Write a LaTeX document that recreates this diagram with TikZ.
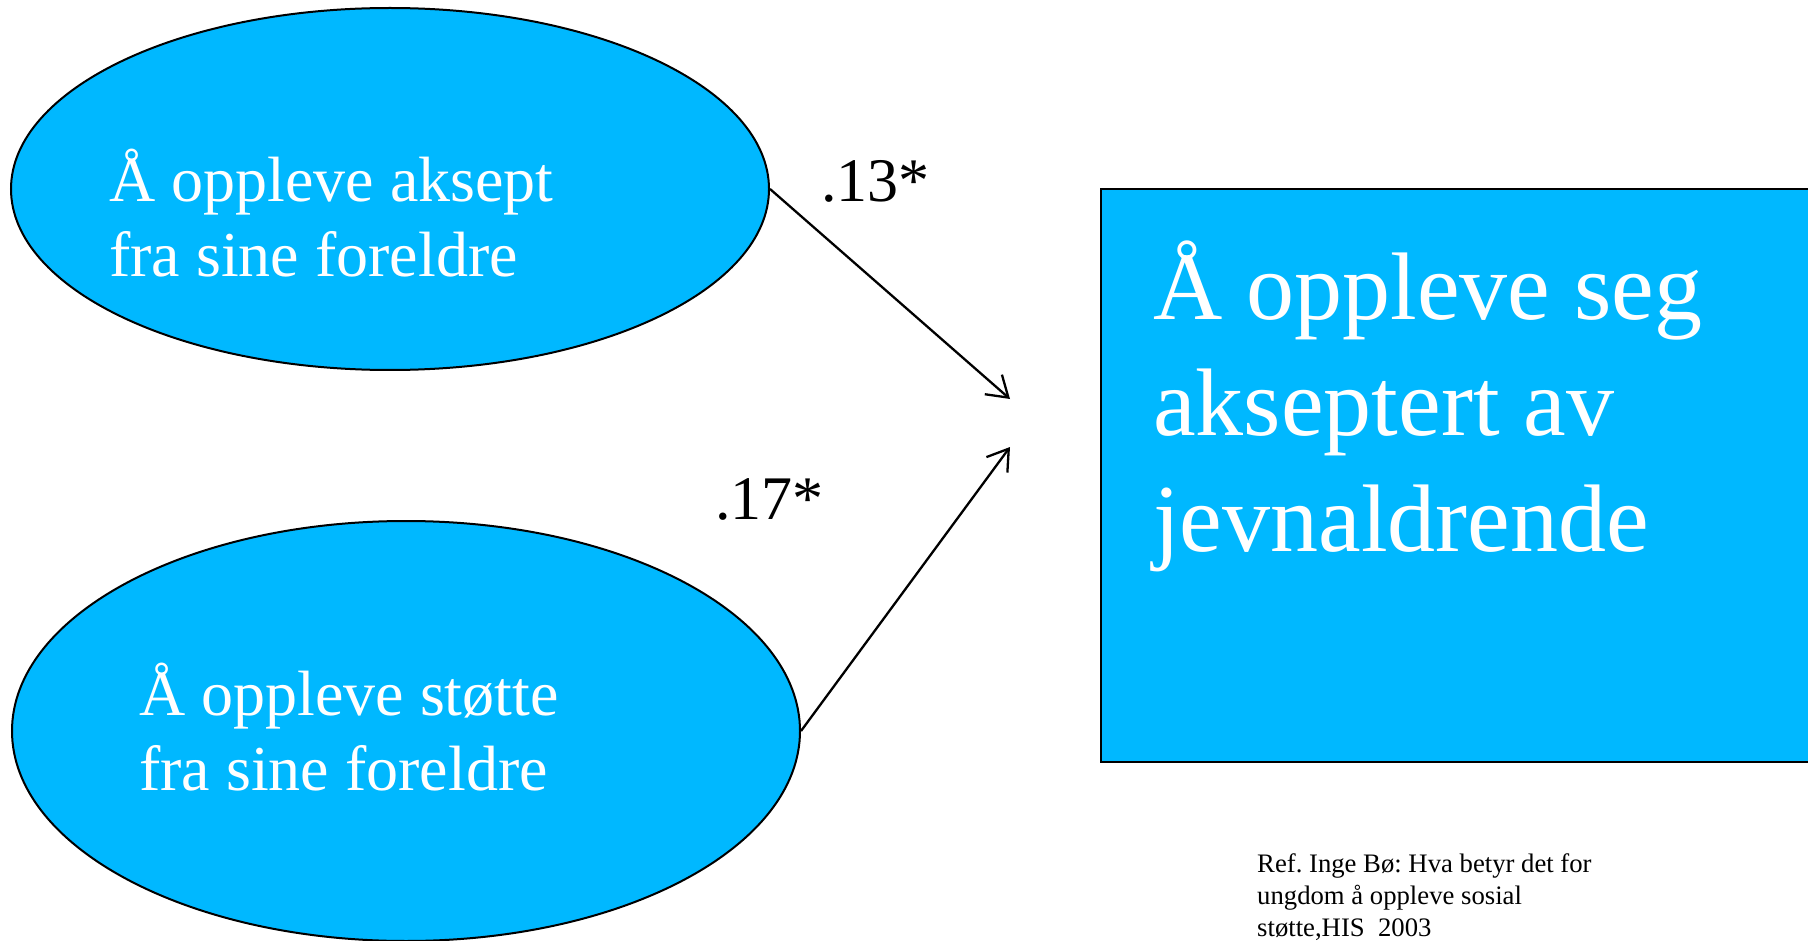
\documentclass[tikz,border=0pt]{standalone}
\usepackage{fontspec}
\setmainfont{Liberation Serif}
\usetikzlibrary{shapes.geometric,arrows.meta}
\definecolor{skyfill}{RGB}{0,184,255}
\frenchspacing
\tikzset{
  bubble/.style={ellipse,draw=black,line width=2pt,fill=skyfill,inner sep=0pt},
  bigbox/.style={rectangle,draw=black,line width=2pt,fill=skyfill,inner sep=0pt},
  bubbletext/.style={text=white,align=left,inner sep=0pt,anchor=base west,font=\fontsize{64}{75}\selectfont},
  boxtext/.style={text=white,align=left,inner sep=0pt,anchor=base west,font=\fontsize{96}{116}\selectfont},
  coef/.style={text=black,inner sep=0pt,anchor=base west,font=\fontsize{62}{72}\selectfont},
  reftext/.style={text=black,align=left,inner sep=0pt,anchor=base west,font=\fontsize{26.7}{32}\selectfont},
  path/.style={draw=black,line width=2.3pt,-{Straight Barb[length=20pt,width=26pt,line width=2.3pt]}}
}
\begin{document}
\begin{tikzpicture}[x=1pt,y=-1pt]
\useasboundingbox (0,0) rectangle (1808,941);
\node[bubble,minimum width=758pt,minimum height=362pt] (e1) at (390,189) {};
\node[bubble,minimum width=788pt,minimum height=420pt] (e2) at (406,731) {};
\node[bigbox,minimum width=729pt,minimum height=573pt] (box) at (1465.5,475.5) {};
\node[bubbletext] (t1) at (109,277) {Å oppleve aksept\\fra sine foreldre};
\node[bubbletext] (t2) at (139,790) {Å oppleve støtte\\fra sine foreldre};
\node[boxtext] (t3) at (1153,551) {Å oppleve seg\\akseptert av\\jevnaldrende};
\node[coef] (c1) at (821,202) {.13*};
\node[coef] (c2) at (715,519) {.17*};
\node[reftext] (ref) at (1257,936) {Ref. Inge Bø: Hva betyr det for\\ungdom å oppleve sosial\\støtte,HIS~ 2003};
\coordinate (a1) at (1010,399);
\coordinate (a2) at (1010,447);
\draw[path] (e1.east) -- (a1);
\draw[path] (e2.east) -- (a2);
\end{tikzpicture}
\end{document}
